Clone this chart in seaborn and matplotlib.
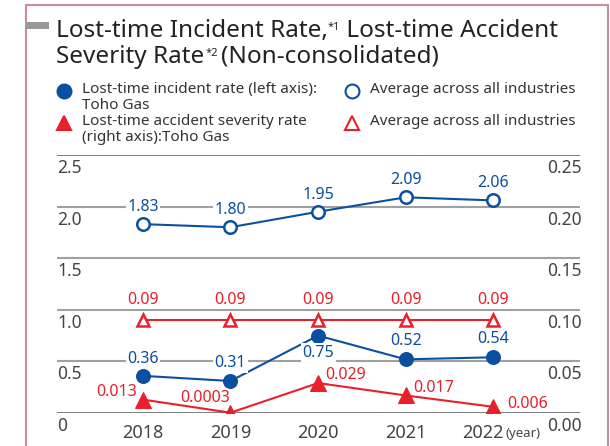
import matplotlib
matplotlib.use("Agg")
import matplotlib.pyplot as plt
import matplotlib.transforms as mtransforms
from matplotlib.lines import Line2D
from matplotlib.patches import Rectangle
import pandas as pd
import seaborn as sns

sns.set_theme(style="white")
plt.rcParams["font.family"] = ["Noto Sans", "DejaVu Sans"]

# Data
years = [2018, 2019, 2020, 2021, 2022]
incident_rate = [0.36, 0.31, 0.75, 0.52, 0.54]
incident_avg = [1.83, 1.80, 1.95, 2.09, 2.06]
severity_rate = [0.013, 0.0003, 0.029, 0.017, 0.006]
severity_avg = [0.09, 0.09, 0.09, 0.09, 0.09]
severity_labels = ["0.013", "0.0003", "0.029", "0.017", "0.006"]

left_ticks = [0, 0.5, 1.0, 1.5, 2.0, 2.5]
left_tick_labels = ["0", "0.5", "1.0", "1.5", "2.0", "2.5"]
right_ticks = [0, 0.05, 0.10, 0.15, 0.20, 0.25]
right_tick_labels = ["0.00", "0.05", "0.10", "0.15", "0.20", "0.25"]

df = pd.DataFrame({
    "year": years,
    "incident": incident_rate,
    "incident_avg": incident_avg,
    "severity": severity_rate,
    "severity_avg": severity_avg,
})

BLUE = "#0b4fa0"
RED = "#e8202a"
TICK = "#444444"

W, H = 610, 446
fig = plt.figure(figsize=(6.1, 4.46), dpi=100)

# Frame and title bar
fig.add_artist(Rectangle((26 / W, -0.1), (608 - 26) / W, 1.1 - 5 / H, transform=fig.transFigure,
                         fill=False, edgecolor="#c98aa3", lw=1.5))
fig.add_artist(Rectangle((26 / W, 1 - 29 / H), 23 / W, 7 / H, transform=fig.transFigure,
                         facecolor="#999999", edgecolor="none"))

# Legend (drawn by hand to match the two-column layout)
legend_items = [
    (64, 91, "o", BLUE, BLUE, "Lost-time incident rate (left axis):\nToho Gas"),
    (352, 91, "o", "white", BLUE, "Average across all industries"),
    (64, 123, "^", RED, RED, "Lost-time accident severity rate\n(right axis):Toho Gas"),
    (352, 123, "^", "white", RED, "Average across all industries"),
]
for lx, ly, mk, fc, ec, txt in legend_items:
    fig.add_artist(Line2D([lx / W], [1 - ly / H], transform=fig.transFigure, marker=mk,
                          markersize=10, markerfacecolor=fc, markeredgecolor=ec,
                          markeredgewidth=1.5, linestyle="none"))
    fig.text((lx + 18) / W, 1 - (ly - 9) / H, txt, fontsize=11, color="#333333",
             va="top", linespacing=1.05)

# Plot area
ax = fig.add_axes([57 / W, 1 - 413 / H, (580 - 57) / W, (413 - 155) / H])
ax2 = ax.twinx()

sns.lineplot(data=df, x="year", y="incident_avg", ax=ax, color=BLUE, lw=1.5, marker="o",
             markersize=9, markerfacecolor="white", markeredgecolor=BLUE, markeredgewidth=1.8)
sns.lineplot(data=df, x="year", y="incident", ax=ax, color=BLUE, lw=1.5, marker="o",
             markersize=10, markerfacecolor=BLUE, markeredgecolor=BLUE)
sns.lineplot(data=df, x="year", y="severity_avg", ax=ax2, color=RED, lw=1.5, marker="^",
             markersize=9, markerfacecolor="white", markeredgecolor=RED, markeredgewidth=1.8)
sns.lineplot(data=df, x="year", y="severity", ax=ax2, color=RED, lw=1.5, marker="^",
             markersize=11, markerfacecolor=RED, markeredgecolor=RED)

for a in (ax, ax2):
    a.set_xlim(2017.02, 2022.99)
    a.set_xlabel("")
    a.set_ylabel("")
    for s in a.spines.values():
        s.set_visible(False)
    a.patch.set_visible(False)

ax.set_ylim(0, 2.5)
ax2.set_ylim(0, 0.25)
ax.set_xticks(years)
ax.set_xticklabels([str(y) for y in years], fontsize=13, color=TICK)
ax.tick_params(axis="x", length=0, pad=8)

down = mtransforms.ScaledTranslation(0, -4 / 100, fig.dpi_scale_trans)
ax.set_yticks(left_ticks)
ax.set_yticklabels(left_tick_labels, fontsize=12.5, color=TICK)
ax.tick_params(axis="y", length=0, pad=0)
for lab in ax.get_yticklabels():
    lab.set_ha("left")
    lab.set_va("top")
    lab.set_transform(lab.get_transform() + down)

ax2.set_yticks(right_ticks)
ax2.set_yticklabels(right_tick_labels, fontsize=12.5, color=TICK)
ax2.tick_params(axis="y", length=0, pad=1)
for lab in ax2.get_yticklabels():
    lab.set_ha("right")
    lab.set_va("top")
    lab.set_transform(lab.get_transform() + down)

# the last year label sits a little left to make room for "(year)"
last = ax.get_xticklabels()[-1]
last.set_transform(last.get_transform() + mtransforms.ScaledTranslation(-10 / 100, 0, fig.dpi_scale_trans))
ax.annotate("(year)", xy=(1, 0), xycoords=last, xytext=(1, 2), textcoords="offset pixels",
            ha="left", va="bottom", fontsize=9.5, color=TICK, annotation_clip=False)

ax.yaxis.grid(True, lw=1.5, color="#a0a0a0")
ax.xaxis.grid(False)
ax.set_axisbelow(True)
for i, gl in enumerate(ax.get_ygridlines()):
    if i in (0, len(left_ticks) - 1):
        gl.set_color("#666666")
        gl.set_linewidth(1.2)

# Title with small superscript note marks
t1 = fig.text(56 / W, 1 - 37 / H, "Lost-time Incident Rate,", fontsize=17.5, color="#222222",
              va="baseline")
s1 = ax.annotate("*1", xy=(1, 1), xycoords=t1, xytext=(0, -3), textcoords="offset pixels",
                 ha="left", va="top", fontsize=8, color="#222222", annotation_clip=False)
ax.annotate(" Lost-time Accident", xy=(1, 0), xycoords=(s1, t1), ha="left", va="bottom",
            fontsize=17.5, color="#222222", annotation_clip=False)
t2 = fig.text(56 / W, 1 - 63 / H, "Severity Rate", fontsize=17.5, color="#222222",
              va="baseline")
s2 = ax.annotate("*2", xy=(1, 1), xycoords=t2, xytext=(1, -3), textcoords="offset pixels",
                 ha="left", va="top", fontsize=8, color="#222222", annotation_clip=False)
ax.annotate("(Non-consolidated)", xy=(1, 0), xycoords=(s2, t2), xytext=(3, 0),
            textcoords="offset pixels", ha="left", va="bottom", fontsize=17.5,
            color="#222222", annotation_clip=False)

# Data labels
box = dict(boxstyle="square,pad=0.1", facecolor="white", edgecolor="none")
for x, v in zip(years, incident_avg):
    ax.annotate(f"{v:.2f}", (x, v), xytext=(0, 17), textcoords="offset pixels",
                ha="center", va="center", fontsize=11.5, color=BLUE, bbox=box)

inc_offsets = [(0, 17), (0, 18), (0, -17), (0, 18), (0, 18)]
for x, v, off in zip(years, incident_rate, inc_offsets):
    ax.annotate(f"{v:.2f}", (x, v), xytext=off, textcoords="offset pixels",
                ha="center", va="center", fontsize=11.5, color=BLUE, bbox=box)

for x, v in zip(years, severity_avg):
    ax2.annotate(f"{v:.2f}", (x, v), xytext=(0, 20), textcoords="offset pixels",
                 ha="center", va="center", fontsize=11.5, color=RED)

sev_offsets = [(-6, 8, "right"), (0, 15, "right"), (7, 8, "left"), (8, 7, "left"), (14, 3, "left")]
for x, v, lab, (dx, dy, ha) in zip(years, severity_rate, severity_labels, sev_offsets):
    ax2.annotate(lab, (x, v), xytext=(dx, dy), textcoords="offset pixels",
                 ha=ha, va="center", fontsize=11.5, color=RED)

fig.savefig("out.png", dpi=100)
